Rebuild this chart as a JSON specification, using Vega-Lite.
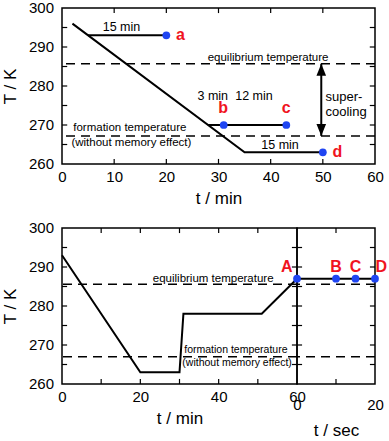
{
  "$schema": "https://vega.github.io/schema/vega-lite/v6.json",
  "padding": {"left": 0, "top": 0, "right": 0, "bottom": 0},
  "config": {
    "font": "Liberation Sans",
    "view": {"stroke": "black", "strokeWidth": 1.5},
    "axis": {"domain": false, "grid": false, "ticks": false, "tickSize": 0,
      "labelFont": "Liberation Sans", "labelFontSize": 15, "labelColor": "black", "labelFlush": false,
      "titleFont": "Liberation Sans", "titleFontSize": 17, "titleFontWeight": "normal", "titleColor": "black"},
    "text": {"font": "Liberation Sans"}
  },
  "datasets": {
    "yTicks": [{"T": 265}, {"T": 270}, {"T": 275}, {"T": 280}, {"T": 285}, {"T": 290}, {"T": 295}],
    "yLabels": [{"T": 260}, {"T": 270}, {"T": 280}, {"T": 290}, {"T": 300}],
    "xTicks60": [{"t": 10}, {"t": 20}, {"t": 30}, {"t": 40}, {"t": 50}],
    "xTicks20": [{"s": 10}],
    "topLines": [
      {"seg": "main", "t": 2, "T": 296}, {"seg": "main", "t": 35, "T": 263}, {"seg": "main", "t": 50, "T": 263},
      {"seg": "a", "t": 5, "T": 293}, {"seg": "a", "t": 20, "T": 293},
      {"seg": "bc", "t": 28, "T": 270}, {"seg": "bc", "t": 43, "T": 270}
    ],
    "topDash": [{"T": 285.7}, {"T": 267.2}],
    "topPts": [{"t": 20, "T": 293}, {"t": 31, "T": 270}, {"t": 43, "T": 270}, {"t": 50, "T": 263}],
    "topLetters": [
      {"t": 22.7, "T": 293.2, "label": "a"}, {"t": 30.9, "T": 274.4, "label": "b"},
      {"t": 43.0, "T": 274.4, "label": "c"}, {"t": 52.8, "T": 263.1, "label": "d"}
    ],
    "topAnno": [
      {"t": 39.5, "T": 287.1, "label": "equilibrium temperature"},
      {"t": 13.0, "T": 269.2, "label": "formation temperature"},
      {"t": 13.3, "T": 265.4, "label": "(without memory effect)"}
    ],
    "topDur": [
      {"t": 11.4, "T": 295.2, "label": "15 min"}, {"t": 28.9, "T": 277.4, "label": "3 min"},
      {"t": 36.8, "T": 277.4, "label": "12 min"}, {"t": 41.8, "T": 264.9, "label": "15 min"}
    ],
    "superText": [{"t": 50.5, "T": 277.3, "label": "super-"}, {"t": 50.5, "T": 273.3, "label": "cooling"}],
    "arrow": [{"t": 49.7, "T": 267.2, "T2": 285.7}],
    "botLines": [
      {"t": 0, "T": 293}, {"t": 20, "T": 263}, {"t": 30, "T": 263}, {"t": 31, "T": 278}, {"t": 51, "T": 278}, {"t": 60, "T": 287}
    ],
    "botDash": [{"T": 285.6}, {"T": 267.0}],
    "botAnnoBig": [{"t": 38.6, "T": 287.0, "label": "equilibrium temperature"}],
    "botAnnoSmall": [
      {"t": 44.4, "T": 268.7, "label": "formation temperature"},
      {"t": 44.7, "T": 265.3, "label": "(without memory effect)"}
    ],
    "botLetterA": [{"t": 57.4, "T": 289.9, "label": "A"}],
    "secLine": [{"s": 0, "T": 287}, {"s": 20, "T": 287}],
    "secPts": [{"s": 0, "T": 287}, {"s": 10, "T": 287}, {"s": 15, "T": 287}, {"s": 20, "T": 287}],
    "secLetters": [{"s": 10, "T": 289.9, "label": "B"}, {"s": 15, "T": 289.9, "label": "C"}, {"s": 21.6, "T": 289.9, "label": "D"}]
  },
  "bounds": "flush",
  "spacing": 64,
  "vconcat": [
    {
      "width": 313, "height": 156,
      "layer": [
        {
          "data": {"name": "topDash"},
          "mark": {"type": "rule", "strokeDash": [9, 6], "strokeWidth": 1.5, "color": "black"},
          "encoding": {"y": {"field": "T", "type": "quantitative", "scale": {"domain": [260, 300], "nice": false, "zero": false},
            "axis": {"labels": false, "title": "T / K", "titlePadding": 43}}}
        },
        {
          "data": {"name": "topLines"},
          "mark": {"type": "line", "color": "black", "strokeWidth": 2},
          "encoding": {
            "x": {"field": "t", "type": "quantitative", "scale": {"domain": [0, 60], "nice": false, "zero": false},
              "axis": {"values": [0, 10, 20, 30, 40, 50, 60], "title": "t / min", "labelPadding": 5, "titlePadding": 6}},
            "y": {"field": "T", "type": "quantitative"},
            "detail": {"field": "seg"}
          }
        },
        {
          "data": {"name": "yTicks"},
          "mark": {"type": "rule", "strokeWidth": 1.2, "color": "black"},
          "encoding": {"x": {"datum": 0, "type": "quantitative"}, "x2": {"datum": 1}, "y": {"field": "T", "type": "quantitative"}}
        },
        {
          "data": {"name": "yTicks"},
          "mark": {"type": "rule", "strokeWidth": 1.2, "color": "black"},
          "encoding": {"x": {"datum": 59, "type": "quantitative"}, "x2": {"datum": 60}, "y": {"field": "T", "type": "quantitative"}}
        },
        {
          "data": {"name": "xTicks60"},
          "mark": {"type": "rule", "strokeWidth": 1.2, "color": "black"},
          "encoding": {"x": {"field": "t", "type": "quantitative"}, "y": {"datum": 260, "type": "quantitative"}, "y2": {"datum": 261.3}}
        },
        {
          "data": {"name": "xTicks60"},
          "mark": {"type": "rule", "strokeWidth": 1.2, "color": "black"},
          "encoding": {"x": {"field": "t", "type": "quantitative"}, "y": {"datum": 298.7, "type": "quantitative"}, "y2": {"datum": 300}}
        },
        {
          "data": {"name": "yLabels"},
          "mark": {"type": "text", "fontSize": 15, "color": "black", "align": "right", "baseline": "middle", "dx": -8},
          "encoding": {"x": {"datum": 0, "type": "quantitative"}, "y": {"field": "T", "type": "quantitative"}, "text": {"field": "T", "type": "quantitative"}}
        },
        {
          "data": {"name": "arrow"},
          "mark": {"type": "rule", "strokeWidth": 2, "color": "black"},
          "encoding": {"x": {"field": "t", "type": "quantitative"}, "y": {"field": "T", "type": "quantitative"}, "y2": {"field": "T2"}}
        },
        {
          "data": {"name": "arrow"},
          "mark": {"type": "point", "shape": "M0,0L-0.8,2L0.8,2Z", "size": 144, "filled": true, "color": "black", "opacity": 1},
          "encoding": {"x": {"field": "t", "type": "quantitative"}, "y": {"field": "T2", "type": "quantitative"}}
        },
        {
          "data": {"name": "arrow"},
          "mark": {"type": "point", "shape": "M0,0L-0.8,-2L0.8,-2Z", "size": 144, "filled": true, "color": "black", "opacity": 1},
          "encoding": {"x": {"field": "t", "type": "quantitative"}, "y": {"field": "T", "type": "quantitative"}}
        },
        {
          "data": {"name": "topPts"},
          "mark": {"type": "circle", "size": 60, "color": "#1f45f2", "opacity": 1},
          "encoding": {"x": {"field": "t", "type": "quantitative"}, "y": {"field": "T", "type": "quantitative"}}
        },
        {
          "data": {"name": "topLetters"},
          "mark": {"type": "text", "fontSize": 16, "fontWeight": "bold", "color": "#f0141e", "align": "center", "baseline": "middle"},
          "encoding": {"x": {"field": "t", "type": "quantitative"}, "y": {"field": "T", "type": "quantitative"}, "text": {"field": "label"}}
        },
        {
          "data": {"name": "topAnno"},
          "mark": {"type": "text", "fontSize": 11.5, "color": "black", "align": "center", "baseline": "middle"},
          "encoding": {"x": {"field": "t", "type": "quantitative"}, "y": {"field": "T", "type": "quantitative"}, "text": {"field": "label"}}
        },
        {
          "data": {"name": "topDur"},
          "mark": {"type": "text", "fontSize": 12.5, "color": "black", "align": "center", "baseline": "middle"},
          "encoding": {"x": {"field": "t", "type": "quantitative"}, "y": {"field": "T", "type": "quantitative"}, "text": {"field": "label"}}
        },
        {
          "data": {"name": "superText"},
          "mark": {"type": "text", "fontSize": 13, "color": "black", "align": "left", "baseline": "middle"},
          "encoding": {"x": {"field": "t", "type": "quantitative"}, "y": {"field": "T", "type": "quantitative"}, "text": {"field": "label"}}
        }
      ]
    },
    {
      "bounds": "flush",
      "spacing": 0,
      "hconcat": [
        {
          "width": 235, "height": 156,
          "layer": [
            {
              "data": {"name": "botDash"},
              "mark": {"type": "rule", "strokeDash": [9, 6], "strokeWidth": 1.5, "color": "black"},
              "encoding": {"y": {"field": "T", "type": "quantitative", "scale": {"domain": [260, 300], "nice": false, "zero": false},
                "axis": {"labels": false, "title": "T / K", "titlePadding": 43}}}
            },
            {
              "data": {"name": "botLines"},
              "mark": {"type": "line", "color": "black", "strokeWidth": 2},
              "encoding": {
                "x": {"field": "t", "type": "quantitative", "scale": {"domain": [0, 60], "nice": false, "zero": false},
                  "axis": {"values": [0, 10, 20, 30, 40, 50, 60], "title": "t / min", "labelPadding": 5, "titlePadding": 6}},
                "y": {"field": "T", "type": "quantitative"}
              }
            },
            {
              "data": {"name": "yTicks"},
              "mark": {"type": "rule", "strokeWidth": 1.2, "color": "black"},
              "encoding": {"x": {"datum": 0, "type": "quantitative"}, "x2": {"datum": 1.3}, "y": {"field": "T", "type": "quantitative"}}
            },
            {
              "data": {"name": "yTicks"},
              "mark": {"type": "rule", "strokeWidth": 1.2, "color": "black"},
              "encoding": {"x": {"datum": 58.7, "type": "quantitative"}, "x2": {"datum": 60}, "y": {"field": "T", "type": "quantitative"}}
            },
            {
              "data": {"name": "xTicks60"},
              "mark": {"type": "rule", "strokeWidth": 1.2, "color": "black"},
              "encoding": {"x": {"field": "t", "type": "quantitative"}, "y": {"datum": 260, "type": "quantitative"}, "y2": {"datum": 261.3}}
            },
            {
              "data": {"name": "xTicks60"},
              "mark": {"type": "rule", "strokeWidth": 1.2, "color": "black"},
              "encoding": {"x": {"field": "t", "type": "quantitative"}, "y": {"datum": 298.7, "type": "quantitative"}, "y2": {"datum": 300}}
            },
            {
              "data": {"name": "yLabels"},
              "mark": {"type": "text", "fontSize": 15, "color": "black", "align": "right", "baseline": "middle", "dx": -8},
              "encoding": {"x": {"datum": 0, "type": "quantitative"}, "y": {"field": "T", "type": "quantitative"}, "text": {"field": "T", "type": "quantitative"}}
            },
            {
              "data": {"name": "botAnnoBig"},
              "mark": {"type": "text", "fontSize": 11.5, "color": "black", "align": "center", "baseline": "middle"},
              "encoding": {"x": {"field": "t", "type": "quantitative"}, "y": {"field": "T", "type": "quantitative"}, "text": {"field": "label"}}
            },
            {
              "data": {"name": "botAnnoSmall"},
              "mark": {"type": "text", "fontSize": 10.5, "color": "black", "align": "center", "baseline": "middle"},
              "encoding": {"x": {"field": "t", "type": "quantitative"}, "y": {"field": "T", "type": "quantitative"}, "text": {"field": "label"}}
            },
            {
              "data": {"name": "botLetterA"},
              "mark": {"type": "text", "fontSize": 16, "fontWeight": "bold", "color": "#f0141e", "align": "center", "baseline": "middle"},
              "encoding": {"x": {"field": "t", "type": "quantitative"}, "y": {"field": "T", "type": "quantitative"}, "text": {"field": "label"}}
            }
          ]
        },
        {
          "width": 78, "height": 156,
          "layer": [
            {
              "data": {"name": "botDash"},
              "mark": {"type": "rule", "strokeDash": [9, 6], "strokeWidth": 1.5, "color": "black"},
              "encoding": {"y": {"field": "T", "type": "quantitative", "scale": {"domain": [260, 300], "nice": false, "zero": false}, "axis": null}}
            },
            {
              "data": {"name": "secLine"},
              "mark": {"type": "line", "color": "black", "strokeWidth": 2},
              "encoding": {
                "x": {"field": "s", "type": "quantitative", "scale": {"domain": [0, 20], "nice": false, "zero": false},
                  "axis": {"values": [0, 10, 20], "title": "t / sec", "labelPadding": 13, "titlePadding": 10}},
                "y": {"field": "T", "type": "quantitative"}
              }
            },
            {
              "data": {"name": "yTicks"},
              "mark": {"type": "rule", "strokeWidth": 1.2, "color": "black"},
              "encoding": {"x": {"datum": 0, "type": "quantitative"}, "x2": {"datum": 1.3}, "y": {"field": "T", "type": "quantitative"}}
            },
            {
              "data": {"name": "yTicks"},
              "mark": {"type": "rule", "strokeWidth": 1.2, "color": "black"},
              "encoding": {"x": {"datum": 18.7, "type": "quantitative"}, "x2": {"datum": 20}, "y": {"field": "T", "type": "quantitative"}}
            },
            {
              "data": {"name": "xTicks20"},
              "mark": {"type": "rule", "strokeWidth": 1.2, "color": "black"},
              "encoding": {"x": {"field": "s", "type": "quantitative"}, "y": {"datum": 260, "type": "quantitative"}, "y2": {"datum": 261.3}}
            },
            {
              "data": {"name": "xTicks20"},
              "mark": {"type": "rule", "strokeWidth": 1.2, "color": "black"},
              "encoding": {"x": {"field": "s", "type": "quantitative"}, "y": {"datum": 298.7, "type": "quantitative"}, "y2": {"datum": 300}}
            },
            {
              "data": {"name": "secPts"},
              "mark": {"type": "circle", "size": 60, "color": "#1f45f2", "opacity": 1},
              "encoding": {"x": {"field": "s", "type": "quantitative"}, "y": {"field": "T", "type": "quantitative"}}
            },
            {
              "data": {"name": "secLetters"},
              "mark": {"type": "text", "fontSize": 16, "fontWeight": "bold", "color": "#f0141e", "align": "center", "baseline": "middle"},
              "encoding": {"x": {"field": "s", "type": "quantitative"}, "y": {"field": "T", "type": "quantitative"}, "text": {"field": "label"}}
            }
          ]
        }
      ]
    }
  ]
}
